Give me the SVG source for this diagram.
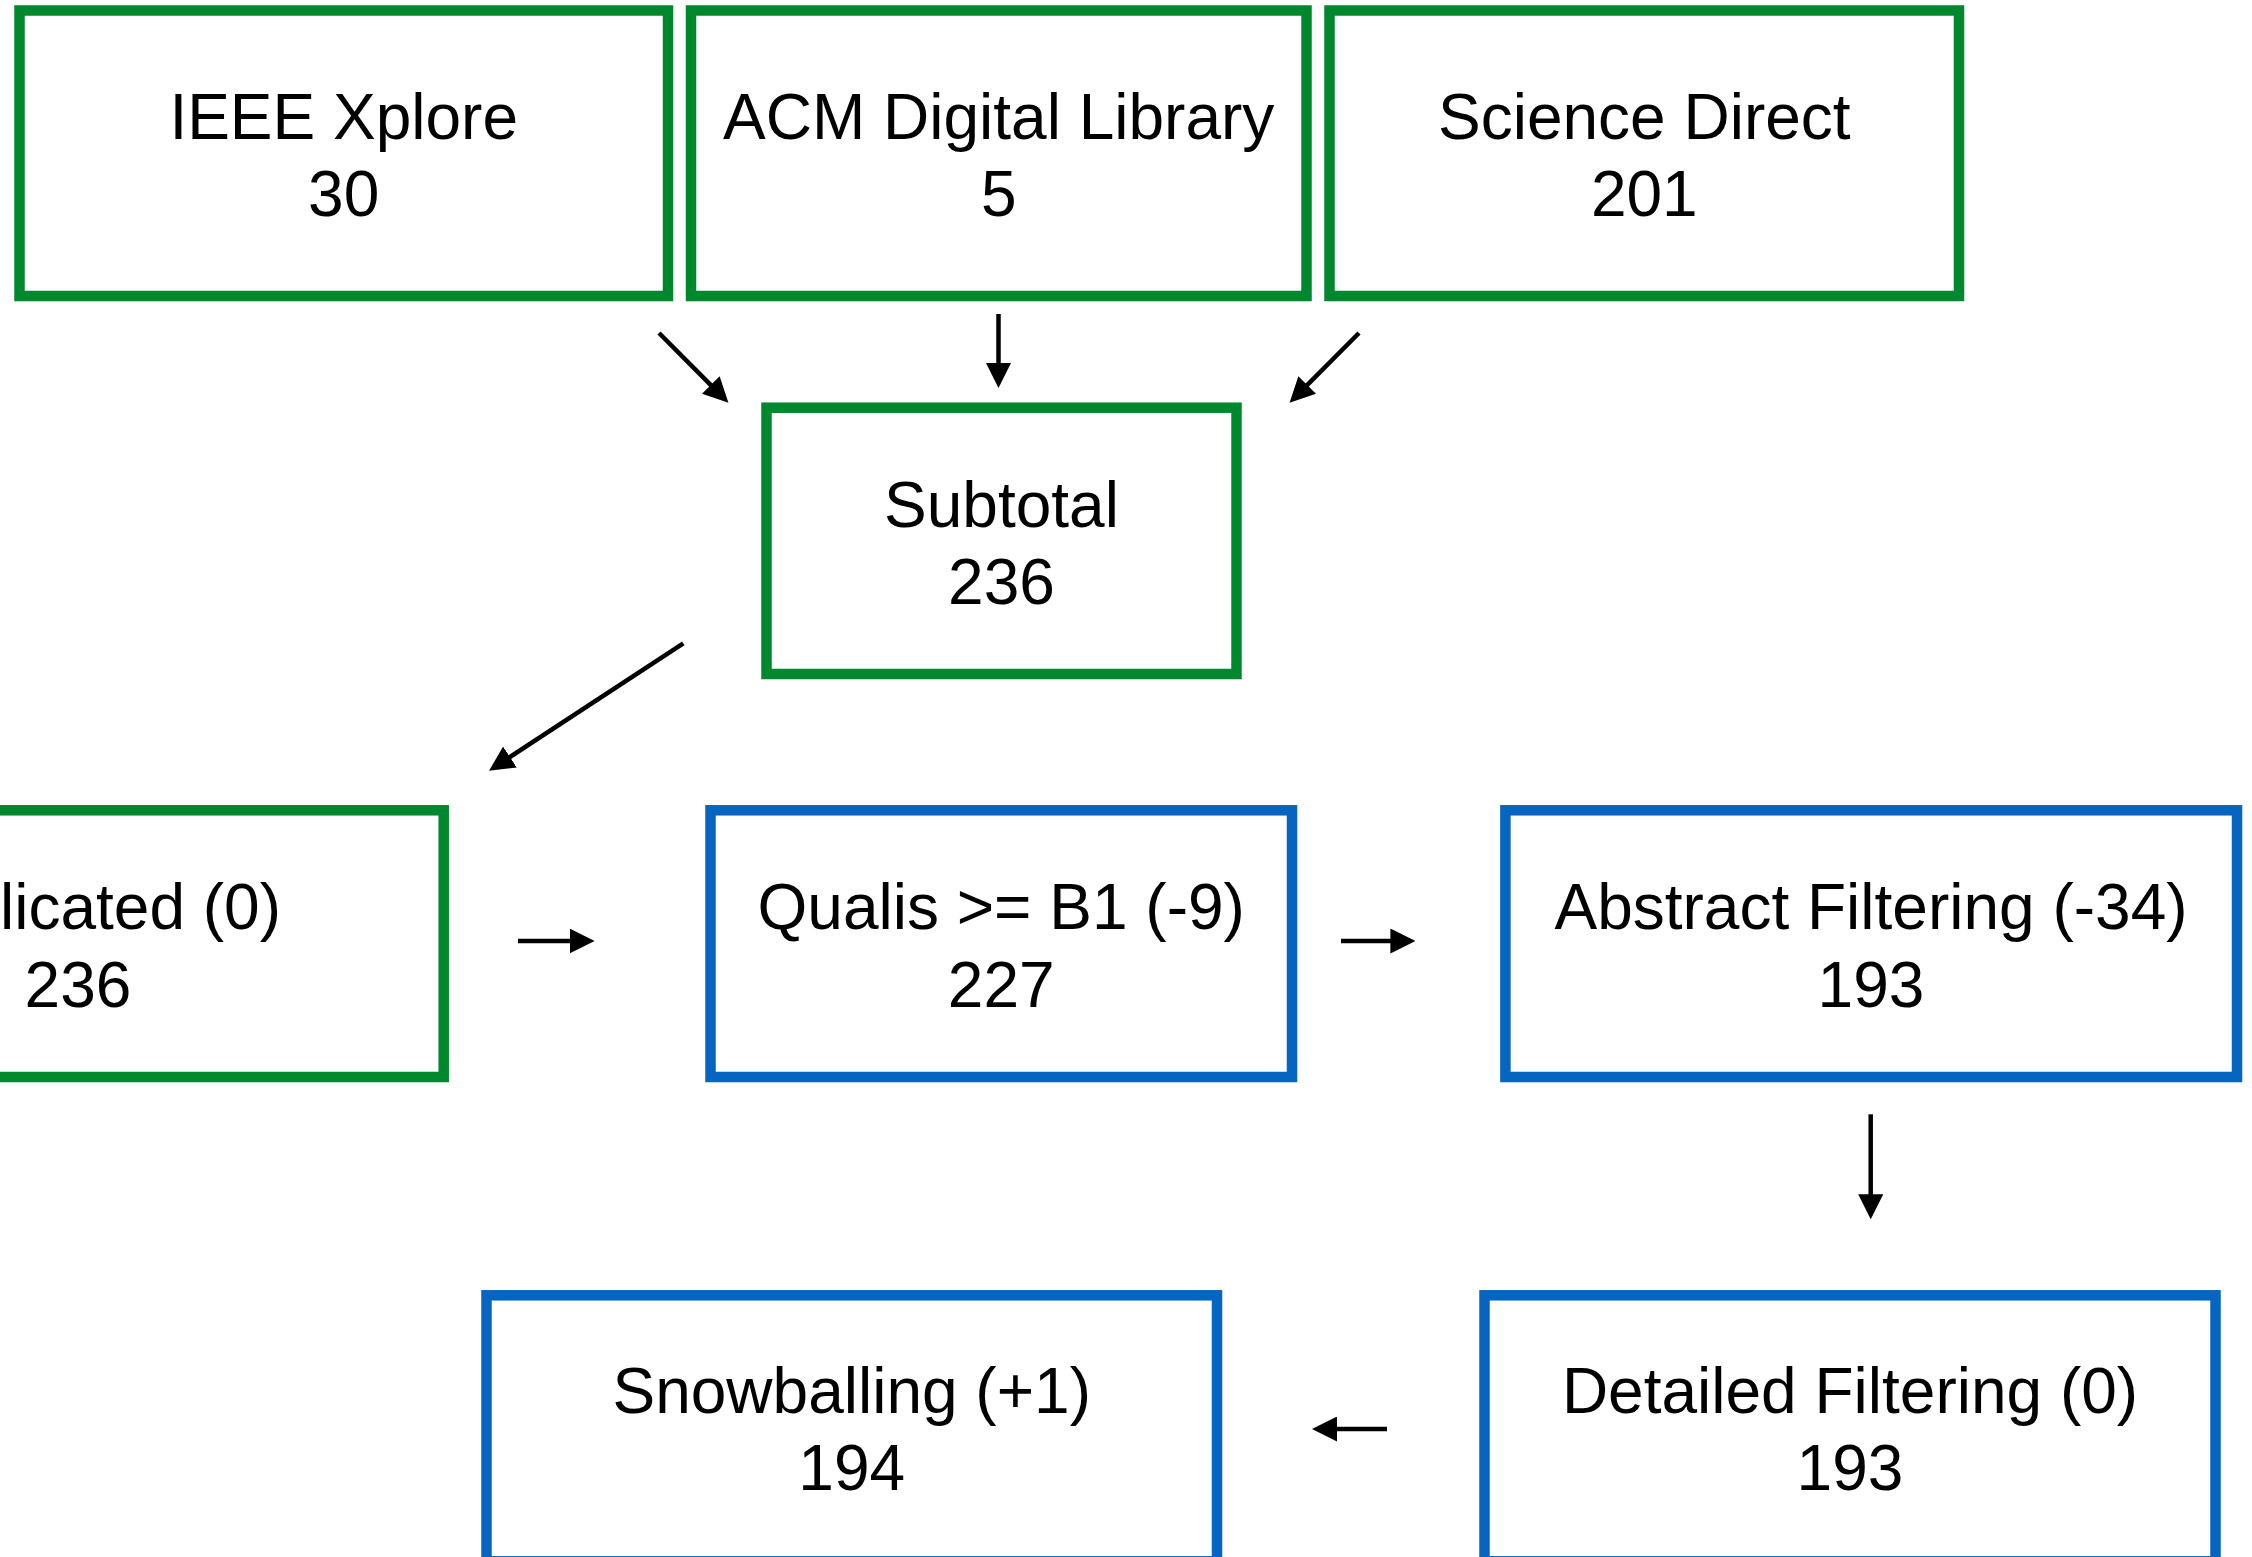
<svg xmlns="http://www.w3.org/2000/svg" width="2252" height="1557" viewBox="0 0 2252 1557">
  <style>
    .g { fill: #ffffff; stroke: #00882F; stroke-width: 10.5; }
    .b { fill: #ffffff; stroke: #0565C0; stroke-width: 10.5; }
    .t { font-family: "Liberation Sans", Arial, sans-serif; font-size: 64px; fill: #000000; text-anchor: middle; }
    .e { text-anchor: end; }
    .c { stroke: #000000; stroke-width: 4.5; fill: none; marker-end: url(#ah); }
  </style>
  <defs>
    <marker id="ah" markerUnits="userSpaceOnUse" markerWidth="25" markerHeight="25" viewBox="0 0 25 25" refX="4" refY="12.5" orient="auto">
      <path d="M0,0 L25,12.5 L0,25 Z" fill="#000000"/>
    </marker>
  </defs>
  <rect width="2252" height="1557" fill="#ffffff"/>

  <g id="ieee">
    <rect class="g" x="19.5" y="10.5" width="648.5" height="285.5"/>
    <text class="t" x="343.7" y="139">IEEE Xplore</text>
    <text class="t" x="343.7" y="216">30</text>
  </g>
  <g id="acm">
    <rect class="g" x="691" y="10.5" width="615.5" height="285.5"/>
    <text class="t" x="998.7" y="139">ACM Digital Library</text>
    <text class="t" x="998.7" y="216">5</text>
  </g>
  <g id="sciencedirect">
    <rect class="g" x="1329.5" y="10.5" width="629.5" height="285.5"/>
    <text class="t" x="1644.3" y="139">Science Direct</text>
    <text class="t" x="1644.3" y="216">201</text>
  </g>
  <g id="subtotal">
    <rect class="g" x="766.5" y="407.7" width="470" height="266.3"/>
    <text class="t" x="1001.5" y="527">Subtotal</text>
    <text class="t" x="1001.5" y="604">236</text>
  </g>
  <g id="deduplicated">
    <rect class="g" x="-288" y="810.3" width="731.7" height="266.7"/>
    <text class="t e" x="281" y="929">Deduplicated (0)</text>
    <text class="t" x="78" y="1007">236</text>
  </g>
  <g id="qualis">
    <rect class="b" x="710.5" y="810.3" width="581.5" height="266.7"/>
    <text class="t" x="1001.2" y="929">Qualis &gt;= B1 (-9)</text>
    <text class="t" x="1001.2" y="1007">227</text>
  </g>
  <g id="abstract">
    <rect class="b" x="1505.4" y="810.3" width="731.6" height="266.7"/>
    <text class="t" x="1871" y="929">Abstract Filtering (-34)</text>
    <text class="t" x="1871" y="1007">193</text>
  </g>
  <g id="snowballing">
    <rect class="b" x="486.5" y="1295.3" width="730.5" height="266"/>
    <text class="t" x="851.7" y="1413">Snowballing (+1)</text>
    <text class="t" x="851.7" y="1490">194</text>
  </g>
  <g id="detailed">
    <rect class="b" x="1484.5" y="1295.3" width="731" height="266"/>
    <text class="t" x="1850" y="1413">Detailed Filtering (0)</text>
    <text class="t" x="1850" y="1490">193</text>
  </g>

  <g id="connectors">
    <line class="c" x1="659" y1="333" x2="713.6" y2="387.8"/>
    <line class="c" x1="998.5" y1="314" x2="998.5" y2="367"/>
    <line class="c" x1="1359" y1="333" x2="1304.4" y2="387.8"/>
    <line class="c" x1="683.3" y1="643.3" x2="506.6" y2="759.2"/>
    <line class="c" x1="518" y1="941" x2="573.6" y2="941"/>
    <line class="c" x1="1341" y1="941" x2="1394.4" y2="941"/>
    <line class="c" x1="1870.7" y1="1114.3" x2="1870.7" y2="1198.3"/>
    <line class="c" x1="1387" y1="1429" x2="1333" y2="1429"/>
  </g>
</svg>
